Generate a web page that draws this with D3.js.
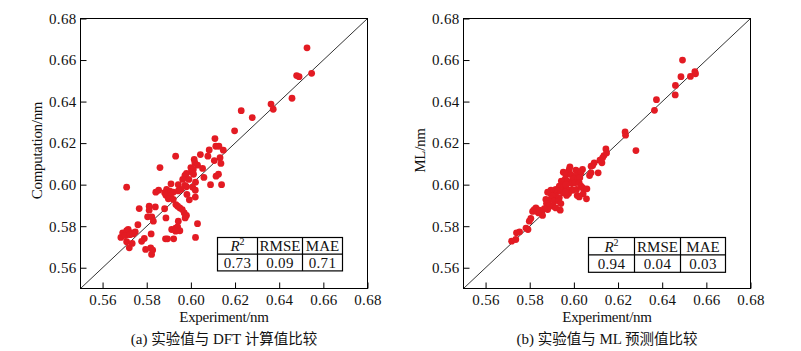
<!DOCTYPE html>
<html><head><meta charset="utf-8">
<script src="https://cdn.jsdelivr.net/npm/d3@7"></script>
<style>
body{margin:0;background:#fff;}
svg{display:block;}
text{font-family:"Liberation Serif","Times New Roman",serif;fill:#111;}
</style></head>
<body>
<svg id="c" width="801" height="351"></svg>
<script>
// ---------- data ----------
const tickValues = [0.56, 0.58, 0.60, 0.62, 0.64, 0.66, 0.68];
const axisDomain = [0.55, 0.68];

// (a) DFT computation vs experiment
const dftExp = [0.6526,0.6479,0.6490,0.6547,0.6458,0.6363,0.6373,0.6228,0.6278,0.6198,0.6109,0.6113,0.6127,0.6083,0.6147,0.6043,0.6077,0.6015,0.5931,0.6132,0.6106,0.6018,0.6030,0.6053,0.6000,0.6011,0.6002,0.6012,0.6136,0.5860,0.6114,0.6125,0.6059,0.5973,0.5980,0.5963,0.5991,0.6021,0.6139,0.6089,0.5910,0.5943,0.5980,0.5973,0.6008,0.5955,0.5943,0.6020,0.5854,0.5841,0.5890,0.5905,0.5898,0.5881,0.5920,0.5887,0.5908,0.5982,0.6020,0.5898,0.5920,0.5993,0.5709,0.5932,0.5940,0.5950,0.5961,0.5970,0.5980,0.5974,0.5881,0.5839,0.5811,0.5811,0.5766,0.5887,0.5804,0.5823,0.5830,0.5943,0.6030,0.5760,0.5913,0.5931,0.5940,0.5950,0.5931,0.5691,0.5709,0.5716,0.5731,0.5748,0.5739,0.5683,0.5703,0.5724,0.5709,0.5734,0.5721,0.5789,0.5777,0.5820,0.5885,0.5894,0.5922,0.6021,0.5795,0.5818,0.5827,0.5822];
const dftComp = [0.6659,0.6525,0.6520,0.6536,0.6416,0.6388,0.6363,0.6356,0.6323,0.6259,0.6222,0.6185,0.6185,0.6167,0.6166,0.6145,0.6137,0.6121,0.6137,0.6130,0.6116,0.6105,0.6094,0.6078,0.6082,0.6073,0.6062,0.6050,0.6102,0.6082,0.6041,0.6050,0.6035,0.6044,0.6054,0.6025,0.6025,0.6012,0.6000,0.6000,0.6004,0.6000,0.5990,0.5996,0.5988,0.5977,0.5970,0.5973,0.5973,0.5964,0.5977,0.5969,0.5961,0.5961,0.5964,0.5949,0.5945,0.5953,0.5940,0.5932,0.5929,0.5927,0.5988,0.5904,0.5896,0.5888,0.5880,0.5864,0.5852,0.5840,0.5884,0.5893,0.5896,0.5877,0.5885,0.5840,0.5845,0.5845,0.5824,0.5824,0.5812,0.5807,0.5784,0.5791,0.5797,0.5778,0.5776,0.5768,0.5779,0.5784,0.5768,0.5773,0.5763,0.5746,0.5755,0.5759,0.5725,0.5717,0.5696,0.5741,0.5727,0.5763,0.5739,0.5739,0.5739,0.5746,0.5688,0.5696,0.5685,0.5664];

// (b) ML prediction vs experiment
const mlExp = [0.6492,0.6485,0.6528,0.6548,0.6551,0.6460,0.6459,0.6374,0.6365,0.6232,0.6234,0.6281,0.6145,0.6148,0.6136,0.6130,0.6127,0.6118,0.6092,0.6085,0.6078,0.6110,0.6078,0.6071,0.6039,0.6009,0.6024,0.6032,0.5982,0.5979,0.5976,0.5952,0.5967,0.5986,0.6009,0.5997,0.6018,0.6027,0.5961,0.5971,0.5979,0.5991,0.6005,0.5943,0.5949,0.5934,0.5952,0.5967,0.5979,0.5994,0.6012,0.6024,0.6032,0.6039,0.6059,0.6042,0.6015,0.6024,0.6057,0.5976,0.5967,0.5943,0.5952,0.5961,0.5918,0.5926,0.5911,0.5896,0.5891,0.5881,0.5918,0.5903,0.5934,0.5896,0.5885,0.5873,0.5911,0.5931,0.5941,0.5876,0.5888,0.5906,0.5918,0.5938,0.5881,0.5866,0.5851,0.5858,0.5840,0.5828,0.5820,0.5813,0.5831,0.5843,0.5805,0.5798,0.5783,0.5792,0.5754,0.5740,0.5737,0.5718,0.5958,0.5964];
const mlPred = [0.6600,0.6520,0.6521,0.6544,0.6534,0.6478,0.6432,0.6409,0.6358,0.6254,0.6238,0.6164,0.6172,0.6153,0.6140,0.6129,0.6105,0.6118,0.6105,0.6092,0.6089,0.6057,0.6057,0.6044,0.6073,0.6070,0.6063,0.6057,0.6086,0.6073,0.6060,0.6060,0.6050,0.6049,0.6041,0.6028,0.6028,0.6033,0.6028,0.6017,0.6009,0.6005,0.6009,0.6017,0.6001,0.5993,0.5985,0.5980,0.5973,0.5973,0.5977,0.6009,0.5993,0.5985,0.5980,0.5956,0.5948,0.5941,0.5932,0.5957,0.5948,0.5969,0.5961,0.5964,0.5977,0.5969,0.5964,0.5973,0.5961,0.5964,0.5945,0.5945,0.5937,0.5932,0.5921,0.5929,0.5921,0.5921,0.5909,0.5909,0.5900,0.5896,0.5888,0.5877,0.5880,0.5884,0.5868,0.5852,0.5864,0.5888,0.5880,0.5871,0.5872,0.5877,0.5837,0.5824,0.5791,0.5784,0.5773,0.5768,0.5736,0.5728,0.6057,0.6001];

const metricHeaders = ["R2", "RMSE", "MAE"];
const dftMetrics = ["0.73", "0.09", "0.71"];
const mlMetrics = ["0.94", "0.04", "0.03"];

const panels = [
  {x0: 80.5, yTitle: "Computation/nm", yTitleX: 37, xs: dftExp, ys: dftComp, metrics: dftMetrics,
   table: {x: 217.5, y: 237.5, w: [40, 45, 40], h: 16.7}, caption: ["(a) ", "实验值与", " DFT ", "计算值比较"]},
  {x0: 463.5, yTitle: "ML/nm", yTitleX: 420, xs: mlExp, ys: mlPred, metrics: mlMetrics,
   table: {x: 588.5, y: 237.5, w: [46, 46, 45], h: 17.4}, caption: ["(b) ", "实验值与", " ML ", "预测值比较"]}
];

const svg = d3.select("#c");
const W = 287, H = 270, plotTop = 18.5;
const SERIF = "'Liberation Serif', 'Times New Roman', serif";
const CJK = "'Noto Sans CJK SC', sans-serif";

panels.forEach(p => {
  const x = d3.scaleLinear().domain(axisDomain).range([p.x0, p.x0 + W]);
  const y = d3.scaleLinear().domain(axisDomain).range([plotTop + H, plotTop]);
  const g = svg.append("g");

  // diagonal
  g.append("line")
    .attr("x1", x(axisDomain[0])).attr("y1", y(axisDomain[0]))
    .attr("x2", x(axisDomain[1])).attr("y2", y(axisDomain[1]))
    .attr("stroke", "#333").attr("stroke-width", 1);

  // points
  g.selectAll("circle").data(p.xs.map((v, i) => [v, p.ys[i]])).join("circle")
    .attr("cx", d => x(d[0])).attr("cy", d => y(d[1])).attr("r", 3.4)
    .attr("fill", "#e31b23");

  // frame
  g.append("rect").attr("x", p.x0).attr("y", plotTop).attr("width", W).attr("height", H)
    .attr("fill", "none").attr("stroke", "#000").attr("stroke-width", 1);

  // axes
  const xa = g.append("g").attr("transform", `translate(0,${plotTop + H})`)
    .call(d3.axisBottom(x).tickValues(tickValues).tickFormat(d3.format(".2f")).tickSizeInner(-6).tickSizeOuter(0).tickPadding(10));
  const ya = g.append("g").attr("transform", `translate(${p.x0},0)`)
    .call(d3.axisLeft(y).tickValues(tickValues).tickFormat(d3.format(".2f")).tickSizeInner(-6).tickSizeOuter(0).tickPadding(10));
  [xa, ya].forEach(a => {
    a.attr("font-family", SERIF).attr("font-size", 15);
    a.select(".domain").remove();
    a.selectAll("line").attr("stroke", "#000");
    a.selectAll("text").style("font-size", "15px").style("font-family", SERIF)
      .style("letter-spacing", "0.3px").attr("fill", "#111");
  });
  ya.selectAll("text").attr("x", -4);
  xa.selectAll("text").attr("y", 6);

  // axis titles
  g.append("text").attr("x", p.x0 + W / 2).attr("y", 321.5).attr("text-anchor", "middle")
    .style("font-size", "15px").style("letter-spacing", "-0.3px").text("Experiment/nm");
  g.append("text").attr("transform", `translate(${p.yTitleX},${plotTop + H / 2 - 3}) rotate(-90)`)
    .attr("text-anchor", "middle").attr("dominant-baseline", "central")
    .style("font-size", "15px").style("letter-spacing", "-0.3px").text(p.yTitle);

  // caption
  const cap = g.append("text").attr("x", p.x0 + W / 2).attr("y", 344).attr("text-anchor", "middle").style("font-size", "15px");
  cap.append("tspan").style("font-family", SERIF).attr("fill", "#111").text(p.caption[0]);
  cap.append("tspan").style("font-family", CJK).attr("fill", "#111").style("font-size", "14.5px").text(p.caption[1]);
  cap.append("tspan").style("font-family", SERIF).attr("fill", "#111").style("white-space", "pre").attr("xml:space", "preserve").text(p.caption[2]);
  cap.append("tspan").style("font-family", CJK).attr("fill", "#111").style("font-size", "14.5px").text(p.caption[3]);

  // table
  const t = p.table;
  const tw = d3.sum(t.w);
  const tg = g.append("g");
  tg.append("rect").attr("x", t.x).attr("y", t.y).attr("width", tw).attr("height", 2 * t.h)
    .attr("fill", "#fff").attr("stroke", "#000").attr("stroke-width", 1.2);
  tg.append("line").attr("x1", t.x).attr("x2", t.x + tw).attr("y1", t.y + t.h).attr("y2", t.y + t.h)
    .attr("stroke", "#000").attr("stroke-width", 1.2);
  let cx = t.x;
  const centers = [];
  t.w.forEach((w, i) => {
    centers.push(cx + w / 2);
    cx += w;
    if (i < t.w.length - 1)
      tg.append("line").attr("x1", cx).attr("x2", cx).attr("y1", t.y).attr("y2", t.y + 2 * t.h)
        .attr("stroke", "#000").attr("stroke-width", 1.2);
  });
  metricHeaders.forEach((h, i) => {
    const tx = tg.append("text").attr("x", centers[i]).attr("y", t.y + t.h / 2 + 5.5)
      .attr("text-anchor", "middle").style("font-size", "15px");
    if (h === "R2") {
      tx.append("tspan").style("font-style", "italic").text("R");
      tx.append("tspan").attr("dy", -6).style("font-size", "10px").text("2");
    } else tx.text(h);
  });
  p.metrics.forEach((m, i) => {
    tg.append("text").attr("x", centers[i]).attr("y", t.y + 1.5 * t.h + 5.5)
      .attr("text-anchor", "middle").style("font-size", "15px").style("letter-spacing", "0.3px").text(m);
  });
});
</script>
</body></html>
